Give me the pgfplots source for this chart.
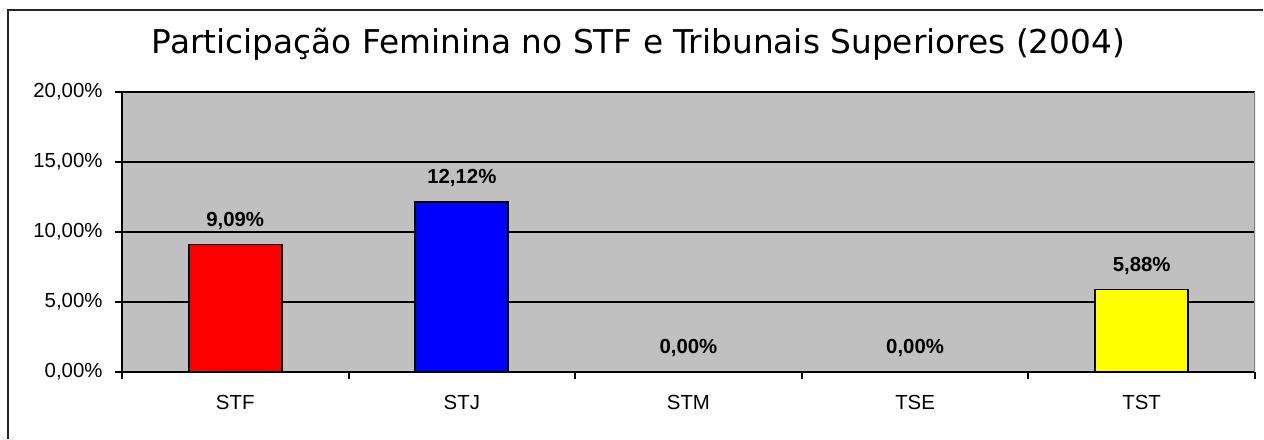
\documentclass[border=0pt]{standalone}
\usepackage{pgfplots}
\pgfplotsset{compat=1.18}
\usepackage{fontspec}
\setmainfont{Liberation Sans}
\newfontfamily\titlefont{DejaVu Sans}
\definecolor{plotgray}{RGB}{192,192,192}
\definecolor{byellow}{RGB}{255,255,0}
\begin{document}
\begin{tikzpicture}
\path (0,0) rectangle (632pt,219.5pt);
\draw[line width=1pt, black!85] (4pt,0) -- (4pt,214.5pt) -- (632pt,214.5pt);
\node[font=\titlefont\fontsize{16.4}{19}\selectfont, anchor=base, inner sep=0pt] at (319.5pt,192.5pt) {Participação Feminina no STF e Tribunais Superiores (2004)};
\begin{axis}[at={(61pt,33.5pt)}, anchor=south west, scale only axis,
  width=567pt, height=140pt,
  xmin=-0.5, xmax=4.5, ymin=0, ymax=20,
  axis background/.style={fill=plotgray},
  axis lines=left, axis line style={-, black, line width=1pt},
  ytick={0,5,10,15,20},
  yticklabels={{0,00\%},{5,00\%},{10,00\%},{15,00\%},{20,00\%}},
  ymajorgrids, grid style={black, line width=1pt},
  xtick={-0.5,0.5,...,4.5}, xticklabels={},
  extra x ticks={0,1,2,3,4},
  extra x tick labels={STF,STJ,STM,TSE,TST},
  extra x tick style={major tick length=0pt, grid=none},
  tick align=outside, major tick length=3.5pt,
  tick style={black, line width=1pt},
  ticklabel style={font=\fontsize{10.2}{12}\selectfont, inner sep=0pt},
  yticklabel style={anchor=east, xshift=-6pt},
  xticklabel style={anchor=base, yshift=-18.75pt},
  ybar, bar width=46.5pt, bar shift=0pt,
  nodes near coords, point meta=explicit symbolic,
  every node near coord/.append style={font=\bfseries\fontsize{10.2}{12}\selectfont, text=black, anchor=base, inner sep=0pt, yshift=9.1pt},
]
\addplot[fill=red, draw=black, line width=0.9pt] coordinates {(0,9.09) [9,09\%]};
\addplot[fill=blue, draw=black, line width=0.9pt] coordinates {(1,12.12) [12,12\%]};
\addplot[fill=none, draw=none] coordinates {(2,0) [0,00\%]};
\addplot[fill=none, draw=none] coordinates {(3,0) [0,00\%]};
\addplot[fill=byellow, draw=black, line width=0.9pt] coordinates {(4,5.88) [5,88\%]};
\draw[gray, line width=1pt] (rel axis cs:1,0) -- (rel axis cs:1,1);
\end{axis}
\end{tikzpicture}
\end{document}
